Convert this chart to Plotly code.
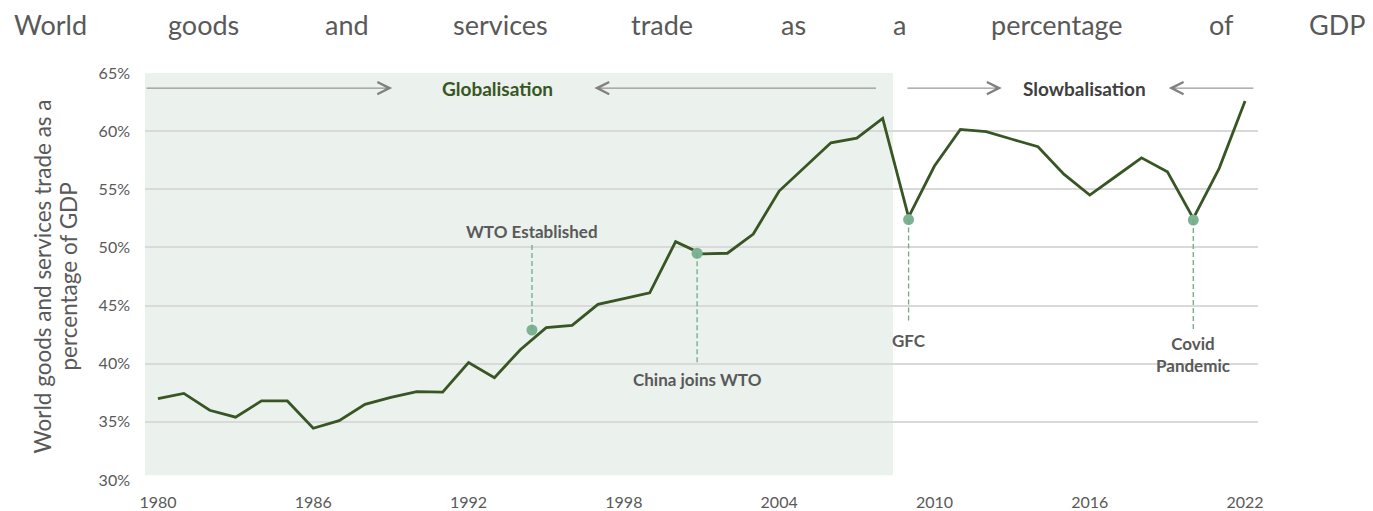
import plotly.graph_objects as go

years = list(range(1980, 2023))
trade_pct = [
    37.0, 37.45, 36.0, 35.4, 36.8, 36.8, 34.45, 35.1, 36.5, 37.1,
    37.6, 37.55, 40.1, 38.8, 41.2, 43.1, 43.3, 45.1, 45.6, 46.1,
    50.5, 49.45, 49.5, 51.15, 54.85, 56.9, 59.0, 59.4, 61.1, 52.6,
    57.0, 60.15, 59.95, 59.3, 58.66, 56.3, 54.5, 56.1, 57.7, 56.5,
    52.5, 56.8, 62.6,
]

event_names = ["WTO Established", "China joins WTO", "GFC", "Covid<br>Pandemic"]
event_x = [1994.45, 2000.83, 2009.0, 2020.0]
event_y = [42.9, 49.5, 52.4, 52.35]
leader_end = [50.3, 40.1, 43.6, 42.9]
label_y = [51.4, 38.6, 42.0, 40.75]

era_names = ["Globalisation", "Slowbalisation"]
era_label_x = [1993.1, 2015.8]
era_colors = ["#375623", "#404040"]
glob_end = 2008.4
arrow_y = 63.7
# (tail, head) pairs of the era arrows
era_arrows = [(1979.5, 1989.05), (2007.8, 1996.86), (2008.9, 2012.6), (2022.38, 2019.05)]

title_words = ["World", "goods", "and", "services", "trade", "as", "a",
               "percentage", "of", "GDP"]
title_word_px = [12, 203, 347, 500, 662, 793, 899, 1057, 1221, 1367]

ytitle_lines = ["World goods and services trade as a", "percentage of GDP"]
ytitle_px = [42, 68]

ytick_vals = [30, 35, 40, 45, 50, 55, 60, 65]
xtick_vals = list(range(1980, 2023, 6))

GRAY = "#595959"
# page is drawn with an 8px body margin, so work in figure px = page px - 8
OFF = 8
W, H = 1373 - OFF, 511 - OFF
L, T = 145 - OFF, 73 - OFF
R, B = W - (1258 - OFF), H - (480 - OFF)
plot_w = W - L - R


def px_to_paper(px):
    return (px - OFF - L) / plot_w


fig = go.Figure()

fig.add_shape(type="rect", xref="x", yref="y", x0=1979.5, x1=glob_end,
              y0=30.4, y1=65, fillcolor="#EBF1EC", line_width=0, layer="below")

for x, y0, y1 in zip(event_x, event_y, leader_end):
    fig.add_shape(type="line", xref="x", yref="y", x0=x, x1=x, y0=y0, y1=y1,
                  line=dict(color="#6FAA88", width=1.3, dash="5px,3px"))

fig.add_trace(go.Scatter(
    x=years, y=trade_pct, mode="lines",
    line=dict(color="#375623", width=2.8), hoverinfo="skip", showlegend=False
))

fig.add_trace(go.Scatter(
    x=event_x, y=event_y, mode="markers",
    marker=dict(color="#7DB393", size=11), hoverinfo="skip", showlegend=False
))

for name, x, y in zip(event_names, event_x, label_y):
    fig.add_annotation(x=x, y=y, xref="x", yref="y", text="<b>" + name + "</b>",
                       showarrow=False, font=dict(size=17, color=GRAY))

for name, x, c in zip(era_names, era_label_x, era_colors):
    fig.add_annotation(x=x, y=arrow_y, xref="x", yref="y", text="<b>" + name + "</b>",
                       showarrow=False, font=dict(size=19, color=c))

for tail, head in era_arrows:
    fig.add_annotation(x=head, y=arrow_y, ax=tail, ay=arrow_y, xref="x", yref="y",
                       axref="x", ayref="y", text="", showarrow=True,
                       arrowhead=5, arrowsize=2.4, arrowwidth=1, arrowcolor="#808080")

n_words = len(title_words)
for i, (word, px) in enumerate(zip(title_words, title_word_px)):
    anchor = "left" if i == 0 else ("right" if i == n_words - 1 else "center")
    fig.add_annotation(x=px_to_paper(px), y=1.118, xref="paper", yref="paper",
                       text=word, showarrow=False, xanchor=anchor, yanchor="middle",
                       font=dict(size=27, color=GRAY))

for line, px in zip(ytitle_lines, ytitle_px):
    fig.add_annotation(x=px_to_paper(px), y=0.5, xref="paper", yref="paper",
                       text=line, textangle=-90, showarrow=False,
                       xanchor="center", yanchor="middle",
                       font=dict(size=22.5, color=GRAY))

fig.update_layout(
    width=W, height=H,
    margin=dict(l=L, r=R, t=T, b=B),
    paper_bgcolor="white", plot_bgcolor="white",
    font=dict(family="Lato, Arial, sans-serif", color=GRAY),
    showlegend=False,
)
fig.update_xaxes(
    range=[1979.5, 2022.5], tickvals=xtick_vals, showgrid=False, zeroline=False,
    tickfont=dict(size=16, color=GRAY), ticks="", ticklabelstandoff=11,
    automargin=False,
)
fig.update_yaxes(
    range=[30, 65], tickvals=ytick_vals, ticktext=[f"{v}%" for v in ytick_vals],
    showgrid=True, gridcolor="#D9D9D9", gridwidth=1.5, zeroline=False,
    tickfont=dict(size=16, color=GRAY), ticks="", ticklabelstandoff=14,
    automargin=False,
)

fig.write_html("out.html")
